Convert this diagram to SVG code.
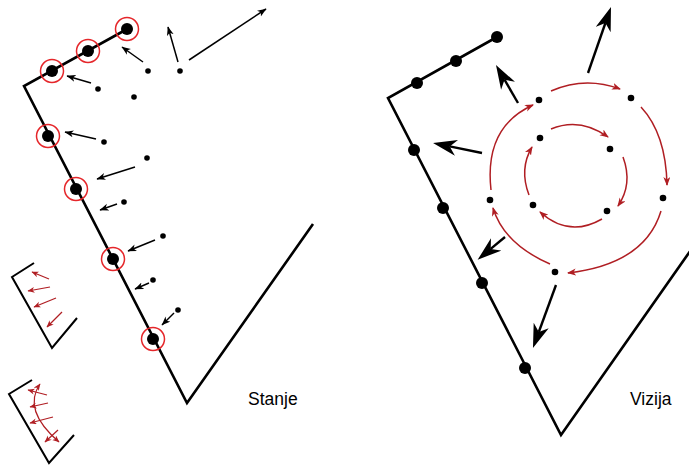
<svg xmlns="http://www.w3.org/2000/svg" width="689" height="465" viewBox="0 0 689 465">
<defs>
<style>
.frame{fill:none;stroke:#000;stroke-width:2.6;stroke-linejoin:miter}
.mini{fill:none;stroke:#000;stroke-width:2}
.big{fill:#000}
.dot{fill:#000}
.ring{fill:none;stroke:#e5262a;stroke-width:1.5}
.thin{fill:none;stroke:#000;stroke-width:1.5;marker-end:url(#hs)}
.bold{fill:none;stroke:#000;stroke-width:2.4;marker-end:url(#hb)}
.red{fill:none;stroke:#b01e23;stroke-width:1.5;marker-end:url(#hr)}
.redm{fill:none;stroke:#b01e23;stroke-width:1.2;marker-end:url(#hm)}
.lbl{font-family:"Liberation Sans",Arial,sans-serif;font-size:17.5px;fill:#000}
</style>
<marker id="hs" markerUnits="userSpaceOnUse" markerWidth="10" markerHeight="8" refX="8.5" refY="3.5" orient="auto"><path d="M0,0 L9,3.5 L0,7 L2.5,3.5 z" fill="#000"/></marker>
<marker id="hb" markerUnits="userSpaceOnUse" markerWidth="26" markerHeight="18" refX="7" refY="8" orient="auto"><path d="M0,0 L24,8 L0,16 L7,8 z" fill="#000"/></marker>
<marker id="hr" markerUnits="userSpaceOnUse" markerWidth="10" markerHeight="8" refX="8" refY="3.5" orient="auto"><path d="M0,0 L9,3.5 L0,7 L2.5,3.5 z" fill="#b01e23"/></marker>
<marker id="hm" markerUnits="userSpaceOnUse" markerWidth="8" markerHeight="7" refX="6.5" refY="3" orient="auto-start-reverse"><path d="M0,0 L7,3 L0,6 L2,3 z" fill="#b01e23"/></marker>
</defs>

<g id="stanje">
<polyline class="frame" points="129,28 24,86 187,403 313,224"/>
<g id="stanje-atoms">
<circle class="big" cx="127" cy="29" r="6"/>
<circle class="big" cx="88" cy="51" r="6"/>
<circle class="big" cx="52" cy="71" r="6"/>
<circle class="big" cx="48" cy="136" r="6"/>
<circle class="big" cx="76" cy="189" r="6"/>
<circle class="big" cx="113" cy="259" r="6"/>
<circle class="big" cx="153" cy="339" r="6"/>
<circle class="ring" cx="127" cy="29" r="11.5"/>
<circle class="ring" cx="88" cy="51" r="11.5"/>
<circle class="ring" cx="52" cy="71" r="11.5"/>
<circle class="ring" cx="48" cy="136" r="11.5"/>
<circle class="ring" cx="76" cy="189" r="11.5"/>
<circle class="ring" cx="113" cy="259" r="11.5"/>
<circle class="ring" cx="153" cy="339" r="11.5"/>
</g>
<g id="stanje-dots">
<circle class="dot" cx="148" cy="71" r="2.8"/>
<circle class="dot" cx="180" cy="71" r="2.8"/>
<circle class="dot" cx="98" cy="89" r="2.8"/>
<circle class="dot" cx="134" cy="97" r="2.8"/>
<circle class="dot" cx="104" cy="142" r="2.8"/>
<circle class="dot" cx="147" cy="158" r="2.8"/>
<circle class="dot" cx="124" cy="202" r="2.8"/>
<circle class="dot" cx="163" cy="236" r="2.8"/>
<circle class="dot" cx="153" cy="280" r="2.8"/>
<circle class="dot" cx="178" cy="310" r="2.8"/>
</g>
<text class="lbl" x="248" y="405">Stanje</text>
</g>

<g id="mini1">
<polyline class="mini" points="34,263 12,277 52,348 77,318"/>
<path class="redm" d="M49,279 L32,272"/>
<path class="redm" d="M50,287 L28,291"/>
<path class="redm" d="M56,298 L34,307"/>
<path class="redm" d="M62,312 L47,327"/>
</g>

<g id="mini2">
<polyline class="mini" points="32,380 9,394 49,463 74,435"/>
<path class="redm" d="M40,384 Q22,410 59,442" style="marker-start:url(#hm)"/>
<path class="redm" d="M47,395 L28,390"/>
<path class="redm" d="M48,403 L30,407"/>
<path class="redm" d="M53,417 L30,423"/>
<path class="redm" d="M58,430 L45,442"/>
</g>

<g id="vizija">
<polyline class="frame" points="497,37 388,98 561,435 700,237"/>
<g id="vizija-atoms">
<circle class="big" cx="497" cy="37" r="6"/>
<circle class="big" cx="456" cy="61" r="6"/>
<circle class="big" cx="417" cy="83" r="6"/>
<circle class="big" cx="414" cy="150" r="6"/>
<circle class="big" cx="443" cy="208" r="6"/>
<circle class="big" cx="482" cy="283" r="6"/>
<circle class="big" cx="525" cy="368" r="6"/>
</g>
<g id="vizija-dots">
<circle class="dot" cx="539" cy="100" r="3.3"/>
<circle class="dot" cx="631" cy="98" r="3.3"/>
<circle class="dot" cx="540" cy="138" r="3.3"/>
<circle class="dot" cx="610" cy="149" r="3.3"/>
<circle class="dot" cx="490" cy="200" r="3.3"/>
<circle class="dot" cx="663" cy="198" r="3.3"/>
<circle class="dot" cx="533" cy="205" r="3.3"/>
<circle class="dot" cx="607" cy="211" r="3.3"/>
<circle class="dot" cx="555" cy="272" r="3.3"/>
</g>
<text class="lbl" x="630" y="405">Vizija</text>
</g>

<g id="connectors">
<path class="thin" d="M143,62 L122,47"/>
<path class="thin" d="M178,62 L168,27"/>
<path class="thin" d="M189,60 L266,9"/>
<path class="thin" d="M91,83 L67,76"/>
<path class="thin" d="M96,139 L65,132"/>
<path class="thin" d="M135,167 L97,179"/>
<path class="thin" d="M117,204 L100,210"/>
<path class="thin" d="M155,240 L128,251"/>
<path class="thin" d="M149,283 L135,289"/>
<path class="thin" d="M174,313 L162,325"/>

<path class="bold" d="M588,73 L605.4,23"/>
<path class="bold" d="M518,103 L504.5,79.7"/>
<path class="bold" d="M482,153 L449.7,146.4"/>
<path class="bold" d="M505,237 L490.7,248.9"/>
<path class="bold" d="M556,285 L538.8,332"/>

<path class="red" d="M551,91 Q585,76 620,89"/>
<path class="red" d="M641,107 Q666,134 667,185"/>
<path class="red" d="M661,211 Q645,264 568,273"/>
<path class="red" d="M550,264 Q504,244 493,208"/>
<path class="red" d="M491,190 Q484,127 533,105"/>
<path class="red" d="M551,129 Q580,117 608,137"/>
<path class="red" d="M623,157 Q633,184 618,206"/>
<path class="red" d="M602,219 Q569,238 540,212"/>
<path class="red" d="M529,195 Q519,169 532,147"/>
</g>
</svg>
